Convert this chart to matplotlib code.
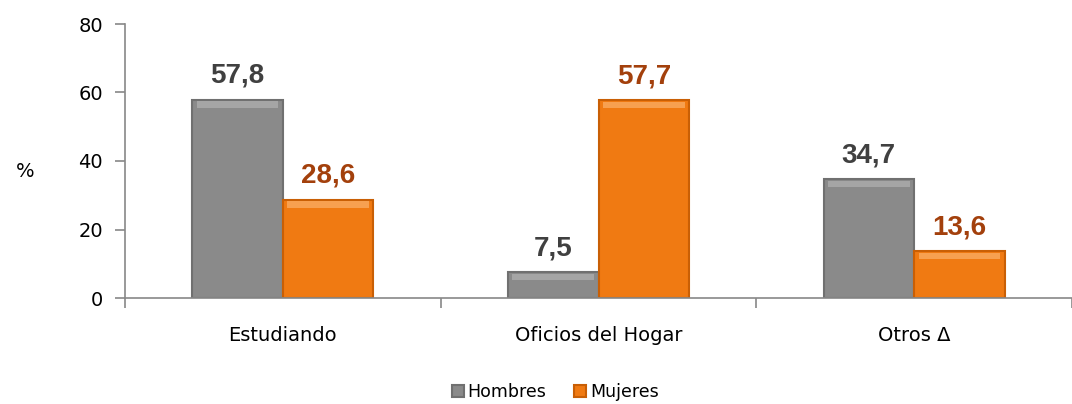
import matplotlib.pyplot as plt
import numpy as np

categories = ["Estudiando", "Oficios del Hogar", "Otros \u0394"]
hombres = [57.8, 7.5, 34.7]
mujeres = [28.6, 57.7, 13.6]
hombres_lbl = ["57,8", "7,5", "34,7"]
mujeres_lbl = ["28,6", "57,7", "13,6"]

plt.rcParams['font.family'] = ['DejaVu Sans']

fig = plt.figure(figsize=(10.72, 4.04), dpi=100)
ax = fig.add_axes([125/1072, 106/404, (1072-125)/1072, 274/404])

x = np.arange(len(categories))
w = 0.287
gray = "#8a8a8a"
orange = "#f07a12"

b1 = ax.bar(x - w/2, hombres, w, color=gray, edgecolor="#707070", linewidth=1.5,
            label="Hombres", zorder=2)
b2 = ax.bar(x + w/2, mujeres, w, color=orange, edgecolor="#c95f05", linewidth=1.5,
            label="Mujeres", zorder=2)

# light bevel band along the top of each bar
band = 1.8
ax.bar(x - w/2, [band] * 3, w * 0.9, bottom=np.array(hombres) - band - 0.4,
       color="#a5a5a5", linewidth=0, zorder=3)
ax.bar(x + w/2, [band] * 3, w * 0.9, bottom=np.array(mujeres) - band - 0.4,
       color="#f7a050", linewidth=0, zorder=3)

for rect, lab in zip(b1, hombres_lbl):
    ax.annotate(lab, (rect.get_x() + rect.get_width()/2, rect.get_height()),
                xytext=(0, 8), textcoords="offset points", ha="center", va="bottom",
                fontsize=20, fontweight="bold", color="#404040",
                family="Liberation Sans")
for rect, lab in zip(b2, mujeres_lbl):
    ax.annotate(lab, (rect.get_x() + rect.get_width()/2, rect.get_height()),
                xytext=(0, 8), textcoords="offset points", ha="center", va="bottom",
                fontsize=20, fontweight="bold", color="#a3400c",
                family="Liberation Sans")

ax.set_ylim(0, 80)
ax.set_yticks([0, 20, 40, 60, 80])
ax.set_xlim(-0.5, -0.5 + (1072-125)/321)
ax.set_xticks(x)
ax.set_xticklabels(categories, fontsize=14)
ax.set_xticks(np.arange(-0.5, 3, 1), minor=True)
ax.tick_params(axis="x", which="major", length=0, pad=20)
ax.tick_params(axis="x", which="minor", length=7, color="#888888", width=1.2)
ax.tick_params(axis="y", length=7, color="#888888", width=1.2, labelsize=14, pad=9)

for s in ["top", "right"]:
    ax.spines[s].set_visible(False)
for s in ["left", "bottom"]:
    ax.spines[s].set_color("#888888")
    ax.spines[s].set_linewidth(1.2)

ax.set_ylabel("%", rotation=0, fontsize=14, va="center")
ax.yaxis.set_label_coords(-0.105, 0.46)

fig.legend(handles=[b1, b2], loc="center", bbox_to_anchor=(0.518, 12/404),
           ncol=2, frameon=False, fontsize=12.5, handlelength=0.7, handleheight=0.7,
           handletextpad=0.2, columnspacing=1.6)

fig.savefig("out.png", dpi=100)
